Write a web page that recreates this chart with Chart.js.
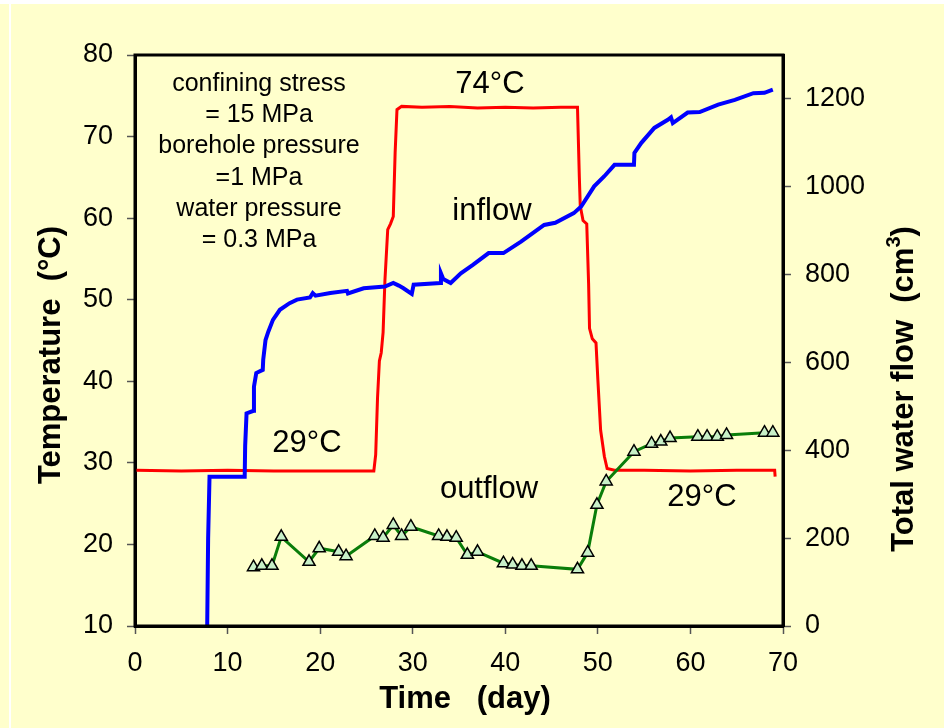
<!DOCTYPE html>
<html>
<head>
<meta charset="utf-8">
<script src="https://cdn.jsdelivr.net/npm/chart.js@4.4.1/dist/chart.umd.min.js"></script>
<style>
  html, body { margin: 0; padding: 0; background: #ffffcc; }
  #wrap { width: 944px; height: 728px; }
</style>
</head>
<body>
<div id="wrap"><canvas id="grafico" width="944" height="728"></canvas></div>
<script>
/* ============================================================
DADOS
============================================================ */

// temperatura (°C) - eixo esquerdo
const diasTemp = [0.1, 5, 10, 15, 20, 25.8, 26.0, 26.2, 26.4, 26.6, 26.8, 27.0, 27.3, 27.6, 27.9, 28.1, 28.3, 28.8,
  31, 34, 37, 40, 43, 46, 47.8, 48.0, 48.1, 48.4, 48.8, 49.0, 49.1, 49.4, 49.8, 50.0, 50.3, 50.7, 51.0, 51.8,
  55, 60, 65, 69.1, 69.15];
const temperatura = [29.1, 29.0, 29.1, 29.0, 29.0, 29.0, 31, 38, 42.5, 43.5, 46, 52.4, 58.6, 59.3, 60.2, 68, 73.3, 73.7,
  73.6, 73.7, 73.5, 73.6, 73.5, 73.6, 73.6, 65, 61.5, 59.7, 59.3, 52, 46.5, 45.2, 44.7, 40.2, 34.0, 30.8, 29.3, 29.1,
  29.1, 29.0, 29.1, 29.1, 28.3];

// inflow (cm3) - eixo direito
const diasEntrada = [7.8, 7.9, 8.05, 11.85, 11.9, 12.05, 12.8, 12.85, 13.1, 13.8,
  13.85, 14.1, 14.4, 14.9, 15.65, 16.7, 17.5, 18.9, 19.2, 19.5,
  21.1, 22.9, 23.0, 24.7, 27.0, 27.9, 28.5, 29.0, 29.9, 30.1,
  33.0, 33.05, 33.3, 34.1, 35.2, 36.5, 38.2, 39.8, 41.7, 44.2,
  45.4, 47.4, 48.2, 49.6, 50.7, 51.8, 53.9, 53.95, 54.7, 56.1,
  57.6, 57.9, 58.1, 59.7, 61.0, 63.0, 64.8, 66.8, 68.0, 68.9];
const entrada = [0, 200, 340, 340, 410, 484, 490, 545, 576, 583,
  606, 651, 670, 697, 720, 735, 743, 748, 758, 752,
  758, 763, 757, 769, 773, 781, 775, 769, 756, 777,
  781, 803, 790, 781, 803, 822, 849, 849, 875, 913,
  918, 940, 955, 1001, 1024, 1050, 1050, 1077, 1100, 1134,
  1153, 1158, 1145, 1169, 1170, 1187, 1198, 1213, 1214, 1221];

// outflow (cm3) - eixo direito
const diasSaida = [12.8, 13.7, 14.8, 15.8, 18.8, 19.9, 22.0, 22.8, 25.9, 26.8,
  27.9, 28.8, 29.8, 32.8, 33.7, 34.7, 35.9, 37.0, 39.8, 40.8,
  41.8, 42.8, 47.8, 48.9, 49.9, 50.9, 53.9, 55.8, 56.8, 57.8,
  60.8, 61.8, 62.9, 63.9, 68.0, 68.9];
const saida = [134, 137, 137, 203, 146, 177, 169, 159, 205, 201,
  230, 205, 226, 205, 203, 201, 162, 169, 143, 140,
  137, 137, 129, 167, 276, 329, 397, 415, 420, 428,
  431, 431, 431, 435, 440, 440];

// eixos
const tempMin = 10, tempMax = 80, tempPasso = 10;
const fluxoMin = 0, fluxoMax = 1300, fluxoPasso = 200;
const diaMin = 0, diaMax = 70, diaPasso = 10;

const FONTE = "'Liberation Sans', Arial, sans-serif";

function pares(xs, ys) {
  return xs.map((x, i) => ({ x: x, y: ys[i] }));
}

/* ============================================================
PLUGIN FUNDO + MOLDURA + TEXTOS
============================================================ */

const fundoPlugin = {
  id: "fundo",
  beforeDraw(chart) {
    const ctx = chart.ctx;
    ctx.save();
    ctx.fillStyle = "#ffffcc";
    ctx.fillRect(0, 0, chart.width, chart.height);
    ctx.fillStyle = "#ffffff";
    ctx.fillRect(0, 0, chart.width, 4);
    ctx.fillRect(9, 0, 2, chart.height);
    ctx.restore();
  },
  afterDraw(chart) {
    const ctx = chart.ctx;
    const a = chart.chartArea;
    ctx.save();

    /* moldura */
    ctx.lineWidth = 3;
    ctx.strokeStyle = "#000";
    ctx.strokeRect(a.left, a.top, a.right - a.left, a.bottom - a.top);

    ctx.fillStyle = "#000";
    ctx.textAlign = "center";
    ctx.textBaseline = "alphabetic";

    /* condições do ensaio */
    ctx.font = "25px " + FONTE;
    const notas = ["confining stress", "= 15 MPa", "borehole pressure", "=1 MPa", "water pressure", "= 0.3 MPa"];
    notas.forEach((t, i) => ctx.fillText(t, 259, 91 + i * 31.2));

    /* rótulos das curvas */
    ctx.font = "31px " + FONTE;
    ctx.fillText("74°C", 490, 93);
    ctx.fillText("inflow", 492, 220);
    ctx.fillText("29°C", 307, 452);
    ctx.fillText("outflow", 489, 498);
    ctx.fillText("29°C", 702, 506);

    /* título eixo x */
    ctx.font = "bold 31px " + FONTE;
    ctx.fillText("Time   (day)", 465, 708);

    /* título eixo esquerdo */
    ctx.save();
    ctx.translate(60, 355);
    ctx.rotate(-Math.PI / 2);
    ctx.fillText("Temperature  (°C)", 0, 0);
    ctx.restore();

    /* título eixo direito, com expoente */
    ctx.save();
    ctx.translate(913, 389);
    ctx.rotate(-Math.PI / 2);
    ctx.textAlign = "left";
    const p1 = "Total water flow  (cm";
    const p3 = ")";
    ctx.font = "bold 31px " + FONTE;
    const w1 = ctx.measureText(p1).width;
    const w3 = ctx.measureText(p3).width;
    ctx.font = "bold 20px " + FONTE;
    const w2 = ctx.measureText("3").width;
    let x0 = -(w1 + w2 + w3) / 2;
    ctx.font = "bold 31px " + FONTE;
    ctx.fillText(p1, x0, 0);
    ctx.font = "bold 20px " + FONTE;
    ctx.fillText("3", x0 + w1, -13);
    ctx.font = "bold 31px " + FONTE;
    ctx.fillText(p3, x0 + w1 + w2, 0);
    ctx.restore();

    ctx.restore();
  },
};

/* ============================================================
GRÁFICO
============================================================ */

const eixoGrid = {
  drawOnChartArea: false,
  drawTicks: true,
  tickLength: 8,
  tickColor: "#555",
  tickWidth: 1.5,
};

const semMilhar = (v) => String(v);

new Chart(document.getElementById("grafico"), {
  type: "line",
  data: {
    datasets: [
      {
        label: "outflow",
        data: pares(diasSaida, saida),
        yAxisID: "y1",
        borderColor: "#0a7d0a",
        borderWidth: 3,
        pointStyle: "triangle",
        pointRadius: 7,
        pointBackgroundColor: "#c8f0c8",
        pointBorderColor: "#000",
        pointBorderWidth: 1.5,
        tension: 0,
        order: 1,
      },
      {
        label: "inflow",
        data: pares(diasEntrada, entrada),
        yAxisID: "y1",
        borderColor: "#0000ff",
        borderWidth: 4,
        pointRadius: 0,
        tension: 0,
        order: 2,
      },
      {
        label: "temperature",
        data: pares(diasTemp, temperatura),
        yAxisID: "y",
        borderColor: "#ff0000",
        borderWidth: 3,
        pointRadius: 0,
        tension: 0,
        order: 3,
      },
    ],
  },
  options: {
    responsive: false,
    animation: false,
    layout: { padding: { top: 55, left: 0, right: 0, bottom: 0 } },
    plugins: {
      legend: { display: false },
      tooltip: { enabled: false },
    },
    scales: {
      x: {
        type: "linear",
        min: diaMin,
        max: diaMax,
        afterFit: (s) => { s.height = 102; },
        ticks: {
          stepSize: diaPasso,
          color: "#000",
          padding: 13,
          callback: semMilhar,
          font: { family: FONTE, size: 27 },
        },
        grid: eixoGrid,
        border: { display: true, color: "#000", width: 3 },
      },
      y: {
        position: "left",
        min: tempMin,
        max: tempMax,
        afterFit: (s) => { s.width = 135; },
        ticks: {
          stepSize: tempPasso,
          color: "#000",
          padding: 14,
          callback: semMilhar,
          font: { family: FONTE, size: 27 },
        },
        grid: eixoGrid,
        border: { display: true, color: "#000", width: 3 },
      },
      y1: {
        position: "right",
        min: fluxoMin,
        max: fluxoMax,
        afterFit: (s) => { s.width = 161; },
        ticks: {
          stepSize: fluxoPasso,
          includeBounds: false,
          color: "#000",
          padding: 14,
          callback: semMilhar,
          font: { family: FONTE, size: 27 },
        },
        grid: eixoGrid,
        border: { display: true, color: "#000", width: 3 },
      },
    },
  },
  plugins: [fundoPlugin],
});
</script>
</body>
</html>
